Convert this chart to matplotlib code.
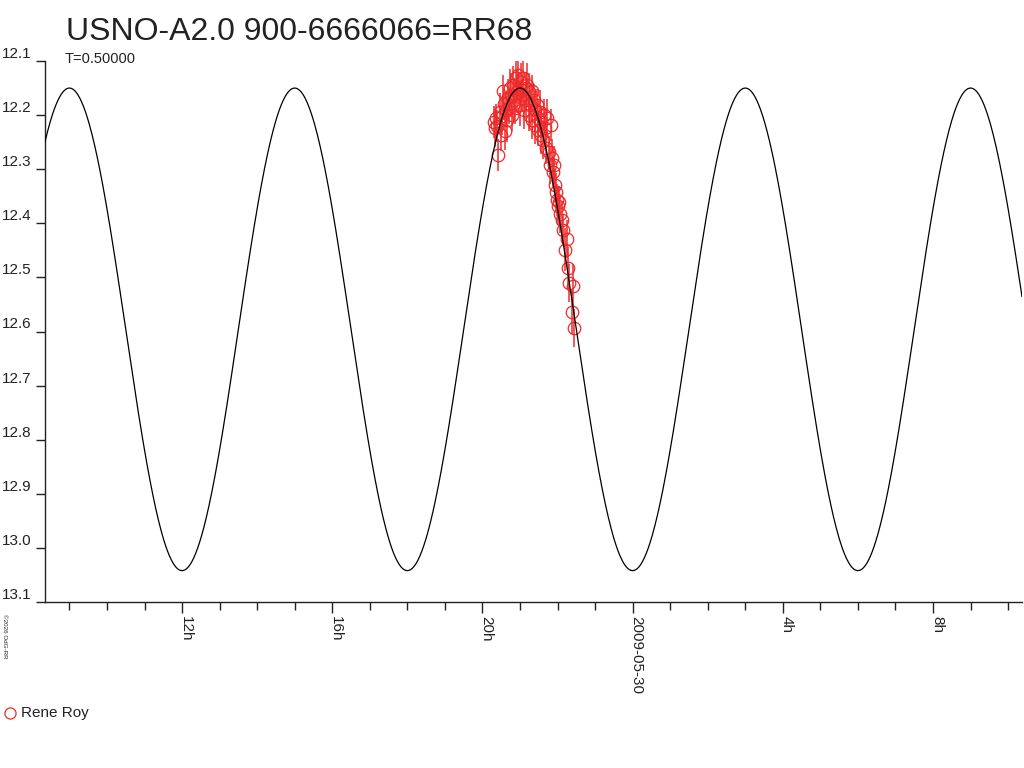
import numpy as np
import matplotlib
matplotlib.use("Agg")
import matplotlib.pyplot as plt
from matplotlib.lines import Line2D
from matplotlib.transforms import ScaledTranslation

plt.rcParams['font.family'] = ['Liberation Sans', 'DejaVu Sans']

# time in hours since 2009-05-29 00:00 UT, magnitudes
obs_t = [20.320, 20.347, 20.373, 20.400, 20.427, 20.480, 20.507, 20.533, 20.560, 20.587,
         20.613, 20.640, 20.667, 20.693, 20.720, 20.747, 20.773, 20.800, 20.827, 20.853,
         20.880, 20.907, 20.933, 20.960, 20.987, 21.013, 21.040, 21.067, 21.093, 21.120,
         21.147, 21.173, 21.200, 21.227, 21.253, 21.280, 21.307, 21.333, 21.360, 21.387,
         21.413, 21.440, 21.467, 21.493, 21.520, 21.547, 21.573, 21.600, 21.627, 21.653,
         21.680, 21.707, 21.760, 21.787, 21.813, 21.840, 21.867, 21.893, 21.920, 21.947,
         21.973, 22.000, 22.027, 22.053, 22.107, 22.133, 22.187, 22.240, 22.267, 22.293,
         22.400, 22.373, 22.427]
obs_mag = [12.213, 12.224, 12.205, 12.220, 12.274, 12.194, 12.237, 12.202, 12.155, 12.179,
           12.229, 12.191, 12.209, 12.168, 12.187, 12.150, 12.163, 12.200, 12.144, 12.172,
           12.187, 12.131, 12.157, 12.126, 12.150, 12.181, 12.139, 12.163, 12.131, 12.191,
           12.150, 12.172, 12.144, 12.200, 12.157, 12.181, 12.155, 12.209, 12.172, 12.191,
           12.218, 12.181, 12.205, 12.228, 12.194, 12.237, 12.213, 12.246, 12.200, 12.224,
           12.261, 12.205, 12.268, 12.292, 12.218, 12.279, 12.305, 12.292, 12.329, 12.342,
           12.357, 12.368, 12.361, 12.383, 12.394, 12.412, 12.449, 12.429, 12.483, 12.510,
           12.516, 12.564, 12.594]
obs_err = [0.030, 0.035, 0.025, 0.030, 0.030, 0.035, 0.030, 0.035, 0.030, 0.030,
           0.035, 0.030, 0.040, 0.035, 0.030, 0.035, 0.040, 0.030, 0.035, 0.040,
           0.030, 0.035, 0.040, 0.035, 0.030, 0.040, 0.035, 0.030, 0.040, 0.035,
           0.030, 0.035, 0.040, 0.030, 0.035, 0.040, 0.030, 0.035, 0.030, 0.040,
           0.035, 0.030, 0.035, 0.030, 0.040, 0.035, 0.030, 0.035, 0.030, 0.035,
           0.030, 0.035, 0.030, 0.035, 0.030, 0.035, 0.030, 0.035, 0.030, 0.035,
           0.030, 0.035, 0.030, 0.035, 0.035, 0.030, 0.040, 0.035, 0.040, 0.035,
           0.040, 0.040, 0.035]

# fitted light curve (sine), parameters
period_h = 6.0
t_max = 21.0          # time of maximum brightness
mag_mean = 12.596
mag_amp = 0.446

x_range = (8.35, 34.37)
major_ticks = [12, 16, 20, 24, 28, 32]
major_labels = ['12h', '16h', '20h', '2009-05-30', '4h', '8h']
minor_ticks = list(range(9, 35))
y_ticks = [12.1, 12.2, 12.3, 12.4, 12.5, 12.6, 12.7, 12.8, 12.9, 13.0, 13.1]

red = '#ee2a2a'
ink = '#222222'

fig = plt.figure(figsize=(10.24, 7.68), dpi=100)
ax = fig.add_axes([45 / 1024, 1 - 602 / 768, 977 / 1024, 541 / 768])

tt = np.linspace(x_range[0], x_range[1], 1500)
model = mag_mean - mag_amp * np.cos(2 * np.pi * (tt - t_max) / period_h)
ax.plot(tt, model, color='black', lw=0.9, zorder=3)

ax.errorbar(obs_t, obs_mag, yerr=obs_err, fmt='o', color=red,
            mfc='none', mec=red, ms=9, mew=0.9, elinewidth=1.1,
            capsize=0, zorder=2)

ax.set_xlim(*x_range)
ax.set_ylim(13.1, 12.1)

for s in ['top', 'right']:
    ax.spines[s].set_visible(False)
for s in ['left', 'bottom']:
    ax.spines[s].set_linewidth(1.0)
    ax.spines[s].set_color(ink)

ax.set_yticks(y_ticks)
ax.set_yticklabels(['%.1f' % v for v in y_ticks])
ax.tick_params(axis='y', length=6.5, width=1.0, pad=3, labelsize=11,
               color=ink, labelcolor=ink)
for lab in ax.get_yticklabels():
    lab.set_verticalalignment('bottom')

ax.set_xticks(major_ticks)
ax.set_xticklabels(major_labels)
ax.set_xticks(minor_ticks, minor=True)
ax.tick_params(axis='x', which='major', length=8, width=1.0, pad=2,
               labelsize=11, color=ink, labelcolor=ink)
ax.tick_params(axis='x', which='minor', length=6, width=1.0, color=ink)
shift = ScaledTranslation(-0.03, 0, fig.dpi_scale_trans)
for lab in ax.get_xticklabels():
    lab.set_rotation(270)
    lab.set_horizontalalignment('left')
    lab.set_verticalalignment('top')
    lab.set_transform(lab.get_transform() + shift)

fig.text(66 / 1024, 1 - 40 / 768, 'USNO-A2.0 900-6666066=RR68', fontsize=23,
         color=ink, va='baseline', ha='left')
fig.text(65 / 1024, 1 - 63 / 768, 'T=0.50000', fontsize=10.5,
         color=ink, va='baseline', ha='left')
fig.text(2 / 1024, 1 - 614 / 768, '\u00a92026 OdG-RR', fontsize=4.5,
         rotation=270, va='top', ha='left', color=ink)

# legend
fig.add_artist(Line2D([10 / 1024], [1 - 713 / 768], marker='o', ms=8,
                      mfc='none', mec=red, mew=0.9, ls='none'))
fig.text(21 / 1024, 1 - 713 / 768, 'Rene Roy', fontsize=11, color=ink,
         va='center', ha='left')

fig.savefig('out.png', dpi=100)
